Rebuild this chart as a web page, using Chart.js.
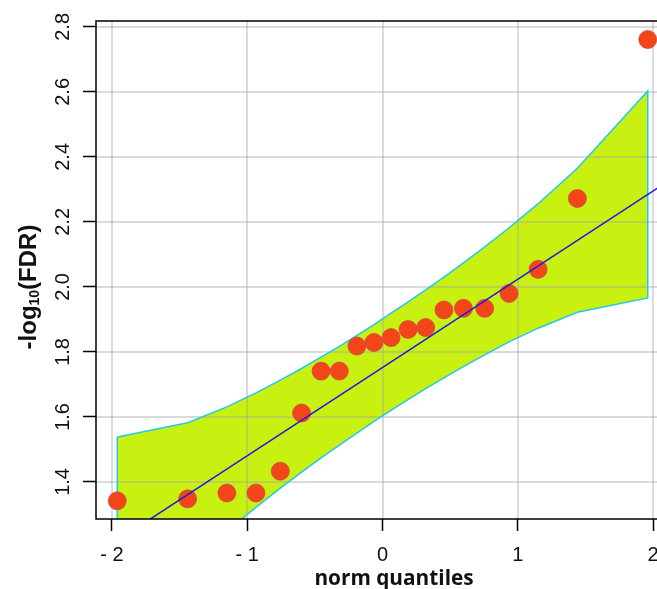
<!DOCTYPE html>
<html><head><meta charset="utf-8">
<script src="https://cdn.jsdelivr.net/npm/chart.js@4/dist/chart.umd.min.js"></script>
<style>
html,body{margin:0;padding:0;background:#fff;overflow:hidden;}
#wrap{width:657px;height:589px;overflow:hidden;position:relative;background:#fff;}
canvas{display:block;}
</style></head><body>
<div id="wrap"><canvas id="c" width="690" height="589"></canvas></div>
<script>
// ---- data ----
const quantiles = [-1.960,-1.440,-1.150,-0.935,-0.755,-0.598,-0.454,-0.319,-0.189,-0.063,0.063,0.189,0.319,0.454,0.598,0.755,0.935,1.150,1.440,1.960];
const observed  = [1.342,1.348,1.366,1.366,1.433,1.612,1.741,1.741,1.818,1.829,1.844,1.869,1.875,1.929,1.934,1.934,1.980,2.054,2.272,2.761];
const bandUpper = [1.538,1.582,1.631,1.674,1.713,1.749,1.784,1.817,1.851,1.884,1.919,1.954,1.991,2.030,2.074,2.123,2.182,2.256,2.365,2.603];
const bandLower = [0.901,1.139,1.248,1.322,1.381,1.430,1.474,1.513,1.550,1.586,1.620,1.653,1.687,1.720,1.755,1.791,1.831,1.873,1.922,1.966];
const fitLineX = [-2.117, 2.117];
const fitLineY = [1.177, 2.327];
const xTickValues = [-2,-1,0,1,2];
const xTickLabels = ['- 2','- 1','0','1','2'];
const yTickValues = [1.4,1.6,1.8,2.0,2.2,2.4,2.6,2.8];
const yTickLabels = ['1.4','1.6','1.8','2.0','2.2','2.4','2.6','2.8'];
const xTitle = 'norm quantiles';
const yTitleParts = ['-log', '10', '(FDR)'];

const pts = quantiles.map((q,i)=>({x:q, y:observed[i]}));
const up = quantiles.map((q,i)=>({x:q, y:bandUpper[i]}));
const lo = quantiles.map((q,i)=>({x:q, y:bandLower[i]}));
const outline = up.concat(lo.slice().reverse(), [up[0]]);
const fit = fitLineX.map((x,i)=>({x:x, y:fitLineY[i]}));

const BAND_INDEX = 3;
const deco = {
  id:'deco',
  afterDatasetDraw(chart, args){
    if (args.index !== BAND_INDEX) return;
    const {ctx, chartArea:a, scales:{x, y}} = chart;
    ctx.save();
    ctx.beginPath(); ctx.rect(a.left, a.top, a.right-a.left, a.bottom-a.top); ctx.clip();
    ctx.strokeStyle = 'rgba(165,165,165,0.40)';
    ctx.lineWidth = 2;
    xTickValues.forEach(v=>{ const px = Math.round(x.getPixelForValue(v)); ctx.beginPath(); ctx.moveTo(px, a.top); ctx.lineTo(px, a.bottom); ctx.stroke(); });
    yTickValues.forEach(v=>{ const py = Math.round(y.getPixelForValue(v)); ctx.beginPath(); ctx.moveTo(a.left, py); ctx.lineTo(a.right, py); ctx.stroke(); });
    ctx.restore();
  },
  afterDraw(chart){
    const {ctx, chartArea:a, scales:{y}} = chart;
    ctx.save();
    ctx.strokeStyle = '#000'; ctx.lineWidth = 1.5;
    ctx.strokeRect(a.left, a.top, a.right-a.left, a.bottom-a.top);
    ctx.fillStyle = '#111';
    ctx.font = '20px "Liberation Sans", Arial, sans-serif';
    ctx.textAlign = 'center'; ctx.textBaseline = 'alphabetic';
    yTickValues.forEach((v,i)=>{
      const py = y.getPixelForValue(v);
      ctx.save(); ctx.translate(69, py); ctx.rotate(-Math.PI/2); ctx.fillText(yTickLabels[i], 0, 0); ctx.restore();
    });
    ctx.font = '700 20.8px "Open Sans", sans-serif';
    ctx.textAlign = 'center'; ctx.textBaseline = 'alphabetic';
    ctx.fillText(xTitle, 394, 585);
    ctx.save();
    ctx.translate(36, 287);
    ctx.rotate(-Math.PI/2);
    ctx.textAlign = 'left';
    const big = '700 24px "Liberation Sans", Arial, sans-serif';
    const small = '700 14px "Liberation Sans", Arial, sans-serif';
    ctx.font = big; const w1 = ctx.measureText(yTitleParts[0]).width; const w3 = ctx.measureText(yTitleParts[2]).width;
    ctx.font = small; const w2 = ctx.measureText(yTitleParts[1]).width;
    let sx = -(w1+w2+w3)/2;
    ctx.font = big; ctx.fillText(yTitleParts[0], sx, 0);
    ctx.font = small; ctx.fillText(yTitleParts[1], sx+w1, 3);
    ctx.font = big; ctx.fillText(yTitleParts[2], sx+w1+w2, 0);
    ctx.restore();
    ctx.restore();
  }
};

new Chart(document.getElementById('c'), {
  type:'scatter',
  data:{ datasets:[
    {label:'points', data:pts, order:1, pointRadius:9, pointHoverRadius:9, pointBackgroundColor:'#f2461a', pointBorderColor:'rgba(205,70,70,0.75)', pointBorderWidth:1, showLine:false},
    {label:'fit', data:fit, order:0, showLine:true, pointRadius:0, borderColor:'#1c1ce0', borderWidth:1.5, fill:false, clip:0},
    {label:'outline', data:outline, order:2, showLine:true, pointRadius:0, borderColor:'#22c8f0', borderWidth:1.5, fill:false, clip:0},
    {label:'upper', data:up, order:3, showLine:true, pointRadius:0, borderColor:'rgba(0,0,0,0)', borderWidth:1, backgroundColor:'#c8f010', fill:4, clip:0},
    {label:'lower', data:lo, order:4, showLine:true, pointRadius:0, borderColor:'rgba(0,0,0,0)', borderWidth:1, fill:false, clip:0}
  ]},
  options:{
    responsive:false, animation:false, devicePixelRatio:1,
    layout:{padding:{left:0, top:21, right:21, bottom:0}},
    plugins:{legend:{display:false}, tooltip:{enabled:false}},
    scales:{
      x:{type:'linear', min:-2.117, max:2.117,
        afterBuildTicks(s){ s.ticks = xTickValues.map(v=>({value:v})); },
        afterFit(s){ s.height = 70; },
        border:{display:false},
        grid:{drawOnChartArea:false, drawTicks:true, tickLength:12, tickColor:'#000', tickWidth:1.5},
        ticks:{autoSkip:false, maxRotation:0, padding:12, color:'#111', font:{family:'"Liberation Sans", Arial, sans-serif', size:20},
          callback(v, i){ return xTickLabels[i]; }}
      },
      y:{type:'linear', min:1.286, max:2.818,
        afterBuildTicks(s){ s.ticks = yTickValues.map(v=>({value:v})); },
        afterFit(s){ s.width = 96; },
        border:{display:false},
        grid:{drawOnChartArea:false, drawTicks:true, tickLength:13, tickColor:'#000', tickWidth:1.5},
        ticks:{display:false}
      }
    }
  },
  plugins:[deco]
});
</script>
</body></html>
